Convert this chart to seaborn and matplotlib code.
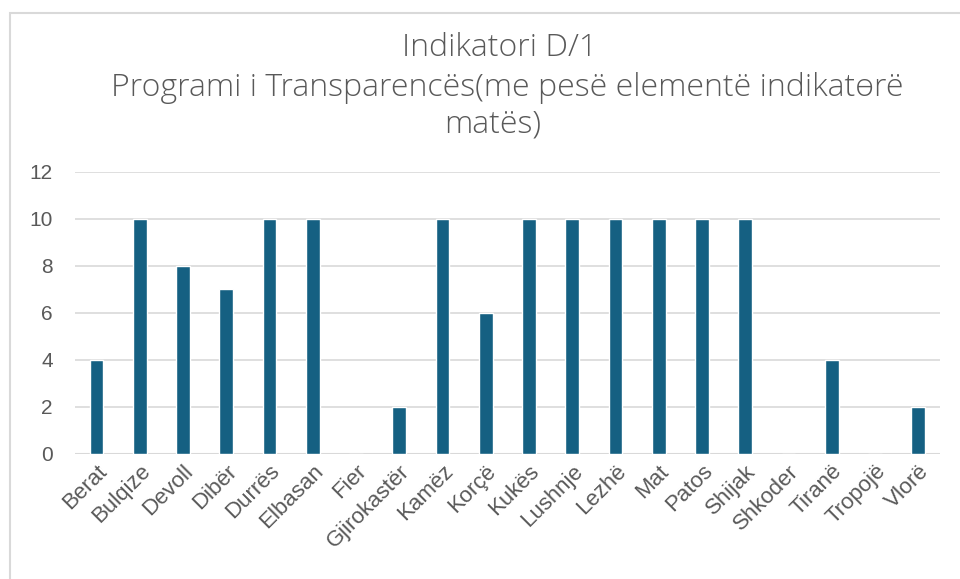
import numpy as np
import pandas as pd
import matplotlib.pyplot as plt
import seaborn as sns
from matplotlib.patches import Rectangle

# data
bashkite = ['Berat', 'Bulqize', 'Devoll', 'Dibër', 'Durrës', 'Elbasan', 'Fier',
            'Gjirokastër', 'Kamëz', 'Korçë', 'Kukës', 'Lushnje', 'Lezhë', 'Mat',
            'Patos', 'Shijak', 'Shkoder', 'Tiranë', 'Tropojë', 'Vlorë']
piket = [4, 10, 8, 7, 10, 10, 0, 2, 10, 6, 10, 10, 10, 10, 10, 10, 0, 4, 0, 2]
y_ticks = [0, 2, 4, 6, 8, 10, 12]

df = pd.DataFrame({'bashkia': bashkite, 'pike': piket})

sns.set_style('white')
plt.rcParams['font.family'] = ['Liberation Sans', 'DejaVu Sans']

fig = plt.figure(figsize=(9.6, 5.79), dpi=100)
ax = fig.add_axes([0.078, 0.216, 0.901, 0.487])

sns.barplot(df, x='bashkia', y='pike', color='#156082', saturation=1,
            width=0.32, ax=ax, zorder=3)

ax.set_ylim(0, 12)
ax.set_yticks(y_ticks)
ax.yaxis.grid(True, color='#d9d9d9', linewidth=1.2, zorder=0)
ax.set_axisbelow(True)
for s in ax.spines.values():
    s.set_visible(False)
ax.axhline(0, color='#d9d9d9', linewidth=1.5, zorder=1)

ax.set_xlabel('')
ax.set_ylabel('')
ax.tick_params(axis='y', labelsize=15, labelcolor='#595959', length=0, pad=16)
ax.tick_params(axis='x', labelsize=16, labelcolor='#595959', length=0, pad=5)
plt.setp(ax.get_xticklabels(), rotation=45, ha='right', rotation_mode='anchor')

titel = dict(ha='center', va='center', fontsize=23, color='#595959',
             fontweight='light', family=['Open Sans', 'DejaVu Sans'])
fig.text(500 / 960, 0.917, 'Indikatori D/1', **titel)
fig.text(507 / 960, 0.848, 'Programi i Transparencës(me pesë elementë indikatөrë', **titel)
fig.text(493 / 960, 0.785, 'matës)', **titel)

# chart frame
fig.patches.append(Rectangle((9.5 / 960, -0.05), 1.05, 1 - 12.5 / 579 + 0.05,
                             transform=fig.transFigure, fill=False,
                             edgecolor='#d9d9d9', linewidth=1.5))

fig.savefig('out.png', dpi=100)
